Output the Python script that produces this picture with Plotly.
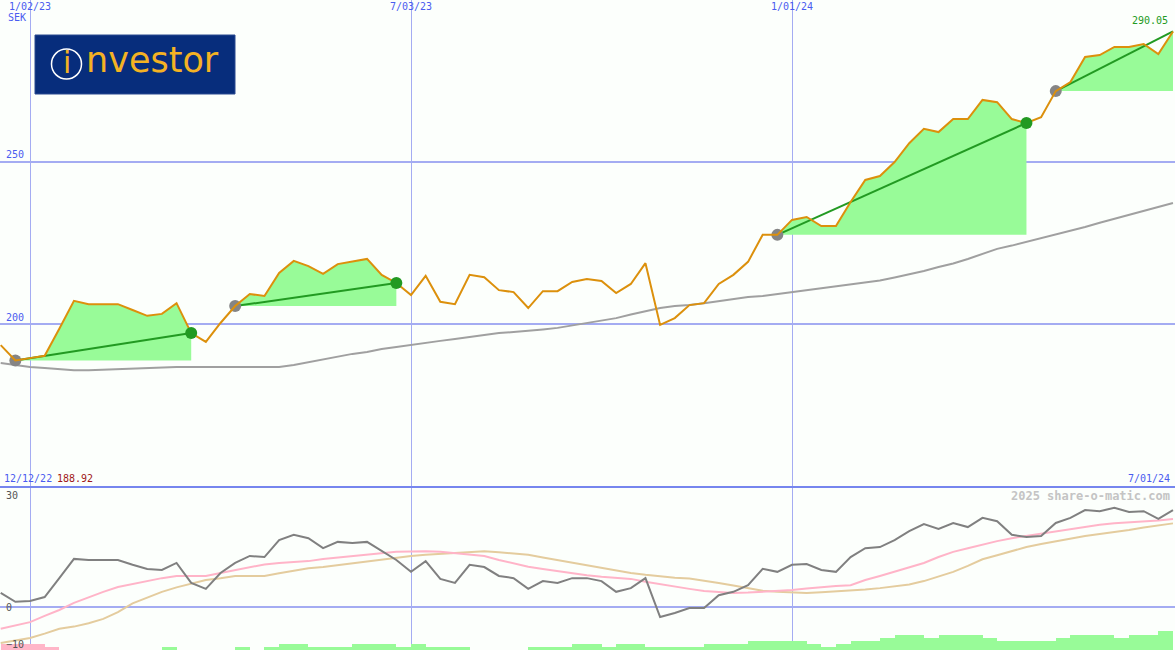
import pandas as pd
import plotly.graph_objects as go

# weekly closes, 12/19/22 .. 7/01/24
weeks = pd.date_range("2022-12-19", periods=81, freq="7D")

price = [193.6, 188.9, 189.6, 190.3, 198.6, 207.2, 206.2, 206.2, 206.2, 204.4,
         202.6, 203.2, 206.5, 197.3, 194.6, 200.4, 205.6, 209.3, 208.7, 215.8,
         219.5, 217.9, 215.5, 218.5, 219.2, 220.1, 215.2, 212.7, 209.0, 214.9,
         206.9, 206.2, 215.2, 214.5, 210.5, 209.9, 205.0, 210.2, 210.2, 213.0,
         213.9, 213.3, 209.6, 212.4, 218.8, 199.8, 201.9, 205.9, 206.5, 212.4,
         215.2, 219.2, 227.5, 227.5, 232.1, 233.0, 230.2, 230.2, 237.6, 244.4,
         245.6, 249.9, 255.7, 260.1, 259.1, 263.1, 263.1, 269.0, 268.3, 263.1,
         261.9, 263.7, 271.7, 274.5, 282.2, 282.8, 285.3, 285.3, 286.2, 283.1, 290.05]

moving_avg = [188.1, 187.5, 186.9, 186.6, 186.3, 185.9, 185.9, 186.1, 186.3, 186.4,
              186.6, 186.7, 186.9, 186.9, 186.9, 186.9, 186.9, 186.9, 186.9, 186.9,
              187.5, 188.4, 189.3, 190.0, 190.9, 191.5, 192.4, 193.0, 193.7, 194.3,
              194.9, 195.5, 196.1, 196.7, 197.3, 197.6, 197.9, 198.4, 198.9, 199.6,
              200.4, 201.2, 201.9, 203.0, 204.1, 205.0, 205.6, 205.9, 206.5, 207.2,
              207.8, 208.4, 208.7, 209.3, 209.9, 210.5, 211.0, 211.5, 212.1, 212.7,
              213.5, 214.4, 215.3, 216.4, 217.6, 218.7, 220.1, 221.6, 223.2, 224.2,
              225.3, 226.4, 227.5, 228.7, 229.9, 231.2, 232.4, 233.6, 234.8, 236.1, 237.3]

momentum = [3.8, 1.4, 1.6, 2.7, 7.8, 13.0, 12.7, 12.7, 12.7, 11.4,
            10.3, 10.0, 11.9, 6.5, 4.9, 9.2, 11.9, 13.8, 13.5, 18.1,
            19.5, 18.6, 15.9, 17.6, 17.3, 17.6, 15.1, 12.7, 9.5, 12.4,
            7.6, 6.5, 11.4, 10.8, 8.4, 7.8, 4.9, 7.0, 6.5, 7.8,
            7.8, 7.0, 4.1, 5.1, 7.8, -2.7, -1.6, -0.3, -0.3, 3.2,
            4.1, 5.9, 10.3, 9.5, 11.4, 11.6, 10.0, 9.5, 13.5, 15.9,
            16.2, 18.1, 20.5, 22.4, 21.1, 22.7, 21.6, 24.1, 23.2, 19.5,
            18.9, 19.2, 22.7, 24.1, 26.2, 25.9, 26.8, 25.7, 25.9, 23.8, 26.2]

fast_sig = [-5.9, -5.0, -4.1, -2.4, -0.8, 1.1, 2.7, 4.1, 5.4, 6.2,
            7.2, 7.8, 8.4, 8.4, 8.4, 9.2, 10.0, 10.8, 11.5, 11.9,
            12.2, 12.4, 13.0, 13.4, 13.8, 14.3, 14.6, 14.9, 15.0, 15.1,
            14.9, 14.6, 14.3, 13.8, 12.7, 11.8, 10.9, 10.3, 9.7, 9.2,
            8.6, 8.2, 7.8, 7.6, 6.8, 6.1, 5.4, 4.9, 4.3, 4.1,
            3.8, 3.9, 4.1, 4.3, 4.6, 5.0, 5.4, 5.7, 5.9, 7.3,
            8.4, 9.5, 10.7, 11.9, 13.5, 14.9, 15.9, 16.9, 17.8, 18.6,
            19.2, 19.7, 20.4, 21.1, 21.6, 22.2, 22.6, 22.8, 23.1, 23.4, 23.8]

slow_sig = [-9.7, -9.1, -8.4, -7.2, -5.9, -5.3, -4.4, -3.2, -1.4, 1.0,
            2.5, 4.1, 5.3, 6.4, 7.3, 7.8, 8.4, 8.4, 8.4, 9.1,
            9.9, 10.5, 10.8, 11.3, 11.8, 12.4, 12.9, 13.4, 13.8, 14.1,
            14.3, 14.6, 14.9, 15.1, 14.8, 14.4, 14.1, 13.4, 12.7, 11.9,
            11.2, 10.4, 9.8, 9.2, 8.7, 8.2, 7.9, 7.7, 7.2, 6.5,
            5.8, 5.1, 4.4, 4.1, 3.9, 3.8, 4.0, 4.2, 4.3, 4.7,
            5.1, 5.5, 6.1, 7.0, 8.2, 9.5, 11.1, 12.9, 14.0, 15.2,
            16.2, 17.0, 17.8, 18.5, 19.2, 19.7, 20.2, 20.8, 21.5, 22.1, 22.6]

# histogram bars, one per week interval (negative = pink)
hist = [-2, -2, -2, -1, 0, 0, 0, 0, 0, 0,
        0, 1, 0, 0, 0, 0, 1, 0, 1, 2,
        2, 1, 1, 1, 2, 2, 2, 1, 2, 1,
        1, 1, 0, 0, 0, 0, 1, 1, 1, 2,
        2, 1, 2, 2, 1, 1, 1, 1, 2, 2,
        2, 3, 3, 3, 3, 2, 1, 2, 3, 3,
        4, 5, 5, 4, 5, 5, 5, 4, 3, 3,
        3, 3, 4, 5, 5, 5, 4, 5, 5, 6]

# (buy week, sell week); last one still open
trades = [(1, 13), (16, 27), (53, 70), (72, 80)]

tick_dates = ["2023-01-02", "2023-07-03", "2024-01-01"]
tick_text = ["1/02/23", "7/03/23", "1/01/24"]

BG = "#fcfffc"
GRID = "#a4acf2"
BLUE = "#4a5cf0"
MONO = "DejaVu Sans Mono"
split = 163 / 650

fig = go.Figure()

# green areas for each trade
for b, s in trades:
    xs = weeks[b:s + 1]
    fig.add_trace(go.Scatter(x=xs, y=[price[b]] * len(xs), mode="lines",
                             line=dict(width=0), hoverinfo="skip"))
    fig.add_trace(go.Scatter(x=xs, y=price[b:s + 1], mode="lines", fill="tonexty",
                             fillcolor="#98fb98", line=dict(width=0), hoverinfo="skip"))

fig.add_trace(go.Scatter(x=weeks, y=moving_avg, mode="lines",
                         line=dict(color="#a0a0a0", width=2)))

for b, s in trades:
    fig.add_trace(go.Scatter(x=[weeks[b], weeks[s]], y=[price[b], price[s]], mode="lines",
                             line=dict(color="#229a22", width=2)))

fig.add_trace(go.Scatter(x=[weeks[b] for b, s in trades], y=[price[b] for b, s in trades],
                         mode="markers", marker=dict(color="#858585", size=12)))

fig.add_trace(go.Scatter(x=weeks, y=price, mode="lines",
                         line=dict(color="#dc900c", width=2)))

closed = trades[:-1]
fig.add_trace(go.Scatter(x=[weeks[s] for b, s in closed], y=[price[s] for b, s in closed],
                         mode="markers", marker=dict(color="#229a22", size=12)))

# lower panel
fig.add_trace(go.Bar(x=weeks[:-1], y=[abs(v) for v in hist], xaxis="x2", yaxis="y3",
                     marker=dict(color=["#ffb6c8" if v < 0 else "#98fb98" for v in hist],
                                 line=dict(width=0)),
                     offset=0, width=7 * 24 * 3600 * 1000))
fig.add_trace(go.Scatter(x=weeks, y=slow_sig, xaxis="x2", yaxis="y2", mode="lines",
                         line=dict(color="#e4cc9e", width=2)))
fig.add_trace(go.Scatter(x=weeks, y=fast_sig, xaxis="x2", yaxis="y2", mode="lines",
                         line=dict(color="#ffb4c8", width=2)))
fig.add_trace(go.Scatter(x=weeks, y=momentum, xaxis="x2", yaxis="y2", mode="lines",
                         line=dict(color="#808080", width=2)))

fig.update_layout(
    width=1175, height=650,
    margin=dict(l=0, r=0, t=0, b=0, pad=0, autoexpand=False),
    paper_bgcolor=BG, plot_bgcolor=BG,
    showlegend=False, bargap=0, hovermode=False,
    xaxis=dict(anchor="y", side="top", type="date",
               range=["2022-12-18 16:00", "2024-07-01 23:00"],
               tickvals=tick_dates, ticktext=tick_text, ticks="",
               ticklabelposition="inside", showgrid=True, gridcolor=GRID, gridwidth=1,
               zeroline=False, showline=False, automargin=False,
               tickfont=dict(family=MONO, size=10, color=BLUE)),
    xaxis2=dict(anchor="y2", matches="x", tickvals=tick_dates, showticklabels=False,
                ticks="", showgrid=True, gridcolor=GRID, gridwidth=1, zeroline=False,
                automargin=False),
    yaxis=dict(domain=[split, 1], range=[149.97, 299.72], tickvals=[200, 250],
               ticklabelposition="inside top", ticks="", showgrid=True, gridcolor=GRID,
               gridwidth=2, zeroline=False, automargin=False, ticklabelstandoff=3,
               tickfont=dict(family=MONO, size=10, color=BLUE)),
    yaxis2=dict(domain=[0, split], range=[-11.62, 32.43], tickvals=[-10, 0, 30],
                ticklabelposition="inside", ticks="", showgrid=False,
                zeroline=True, zerolinecolor=GRID, zerolinewidth=2, automargin=False,
                ticklabelstandoff=3,
                tickfont=dict(family=MONO, size=10, color="#555555")),
    yaxis3=dict(overlaying="y2", anchor="x2", range=[0, 52.6], visible=False),
)

# panel separator
fig.add_shape(type="line", xref="paper", yref="paper", x0=0, x1=1, y0=split, y1=split,
              line=dict(color="#7686ee", width=2))

# logo
fig.add_shape(type="rect", xref="paper", yref="paper",
              x0=35 / 1175, x1=235 / 1175, y0=1 - 94 / 650, y1=1 - 35 / 650,
              fillcolor="#072d7c", line=dict(color="#2a4a90", width=1), layer="above")
fig.add_shape(type="circle", xref="paper", yref="paper",
              x0=51.5 / 1175, x1=81.5 / 1175, y0=1 - 79 / 650, y1=1 - 49 / 650,
              line=dict(color="white", width=1.5), layer="above")
fig.add_annotation(x=66.5 / 1175, y=1 - 63 / 650, xref="paper", yref="paper", text="i",
                   showarrow=False, xanchor="center", yanchor="middle",
                   font=dict(family="DejaVu Sans", size=30, color="#f4b223"))
fig.add_annotation(x=84 / 1175, y=1 - 60 / 650, xref="paper", yref="paper", text="nvestor",
                   showarrow=False, xanchor="left", yanchor="middle",
                   font=dict(family="DejaVu Sans", size=35, color="#f4b223"))

notes = [
    (6, 18, "SEK", BLUE, "left", False),
    (1170, 20, "290.05", "#229a22", "right", False),
    (2, 478, "12/12/22", BLUE, "left", False),
    (55, 478, "188.92", "#a01818", "left", False),
    (1172, 478, "7/01/24", BLUE, "right", False),
    (1172, 496, "2025 share-o-matic.com", "#c4c4c4", "right", True),
]
for x, y, txt, col, anchor, bold in notes:
    fig.add_annotation(x=x / 1175, y=1 - y / 650, xref="paper", yref="paper",
                       text="<b>%s</b>" % txt if bold else txt, showarrow=False,
                       xanchor=anchor, yanchor="middle",
                       font=dict(family=MONO, size=12 if bold else 10, color=col))

# drop the browser's default page margin so the chart sits at (0, 0)
fig.write_html("out.html", config={"displayModeBar": False},
               post_script="document.body.style.margin='0';")
